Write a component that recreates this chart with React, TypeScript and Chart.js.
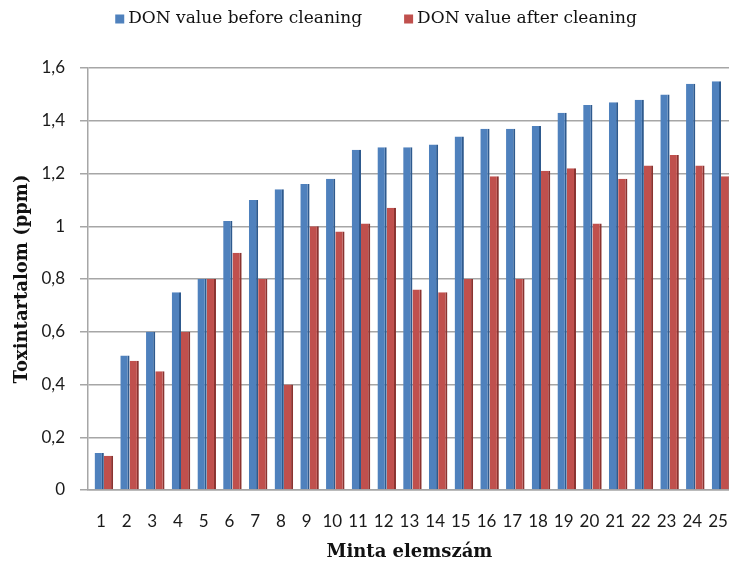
import { useEffect, useRef } from 'react';
import { Chart, registerables } from 'chart.js';

Chart.register(...registerables);

const categories = ['1','2','3','4','5','6','7','8','9','10','11','12','13','14','15','16','17','18','19','20','21','22','23','24','25'];
const seriesLabels = ['DON value before cleaning', 'DON value after cleaning'];
const beforeCleaning = [0.14,0.51,0.60,0.75,0.80,1.02,1.10,1.14,1.16,1.18,1.29,1.30,1.30,1.31,1.34,1.37,1.37,1.38,1.43,1.46,1.47,1.48,1.50,1.54,1.55];
const afterCleaning = [0.13,0.49,0.45,0.60,0.80,0.90,0.80,0.40,1.00,0.98,1.01,1.07,0.76,0.75,0.80,1.19,0.80,1.21,1.22,1.01,1.18,1.23,1.27,1.23,1.19];
const yMin = 0;
const yMax = 1.6;
const yStep = 0.2;
const xTitle = 'Minta elemszám';
const yTitle = 'Toxintartalom (ppm)';

const faceColors = ['#4F81BD', '#C0504D'];
const edgeColors = ['#2E5A8E', '#8A3330'];

const legendPlugin = {
  id: 'customLegend',
  afterDraw(chart: any) {
    const ctx = chart.ctx;
    ctx.save();
    ctx.font = '17px "DejaVu Serif"';
    const sq = 9, gap = 4, spacing = 42;
    const widths = chart.data.datasets.map((d: any) => ctx.measureText(d.label).width);
    let total = 0;
    widths.forEach((w: number, i: number) => { total += sq + gap + w + (i > 0 ? spacing : 0); });
    let x = 376 - total / 2;
    const y = 19;
    chart.data.datasets.forEach((d: any, i: number) => {
      ctx.fillStyle = faceColors[i];
      ctx.fillRect(x, y - sq / 2, sq, sq);
      x += sq + gap;
      ctx.fillStyle = '#111';
      ctx.textBaseline = 'middle';
      ctx.textAlign = 'left';
      ctx.fillText(d.label, x, y);
      x += widths[i] + spacing;
    });
    ctx.restore();
  },
};

// Shift the bars a few pixels right, like the depth offset of the original 3-D bars
const depthShiftPlugin = {
  id: 'depthShift',
  beforeDatasetsDraw(chart: any) {
    chart.ctx.save();
    chart.ctx.translate(3, 0);
  },
  afterDatasetsDraw(chart: any) {
    chart.ctx.restore();
  },
};

export default function App() {
  const ref = useRef<HTMLCanvasElement>(null);
  useEffect(() => {
    if (!ref.current) return;
    const chart = new Chart(ref.current, {
      type: 'bar',
      data: {
        labels: categories,
        datasets: [
          {
            label: seriesLabels[0],
            data: beforeCleaning,
            backgroundColor: faceColors[0],
            borderColor: edgeColors[0],
            borderWidth: { top: 0, left: 0, bottom: 0, right: 2 },
            borderSkipped: false,
          },
          {
            label: seriesLabels[1],
            data: afterCleaning,
            backgroundColor: faceColors[1],
            borderColor: edgeColors[1],
            borderWidth: { top: 0, left: 0, bottom: 0, right: 2 },
            borderSkipped: false,
          },
        ],
      },
      options: {
        responsive: false,
        animation: false,
        devicePixelRatio: 1,
        layout: { padding: { top: 68, right: 6, left: 0, bottom: 0 } },
        datasets: { bar: { categoryPercentage: 0.72, barPercentage: 1.0 } },
        plugins: {
          legend: { display: false },
          tooltip: { enabled: false },
        },
        scales: {
          x: {
            grid: { display: false },
            border: { display: true, color: '#a6a6a6', width: 1.5 },
            ticks: {
              color: '#1a1a1a',
              font: { family: 'Lato', size: 17 },
              padding: 13,
              maxRotation: 0,
              autoSkip: false,
            },
            title: {
              display: true,
              text: xTitle,
              color: '#111',
              font: { family: '"DejaVu Serif"', size: 18, weight: 'bold' },
              padding: { top: 0, bottom: 2 },
            },
            afterFit: (s: any) => { s.height = 75; },
          },
          y: {
            min: yMin,
            max: yMax,
            ticks: {
              stepSize: yStep,
              color: '#1a1a1a',
              font: { family: 'Lato', size: 17 },
              padding: 15,
              callback: (v: any) => Number(Number(v).toFixed(1)).toString().replace('.', ','),
            },
            grid: { color: '#a6a6a6', lineWidth: 1.5, tickLength: 8, drawTicks: true },
            border: { display: true, color: '#a6a6a6', width: 1.5 },
            title: {
              display: true,
              text: yTitle,
              color: '#111',
              font: { family: '"DejaVu Serif"', size: 18, weight: 'bold' },
              padding: { top: 12, bottom: 0 },
            },
            afterFit: (s: any) => { s.width = 88; },
          },
        },
      },
      plugins: [legendPlugin, depthShiftPlugin],
    });
    return () => chart.destroy();
  }, []);
  return (
    <div style={{ position: 'fixed', left: 0, top: 0, width: 729, height: 565, overflow: 'hidden', background: '#fff' }}>
      <canvas ref={ref} width={741} height={565} style={{ display: 'block' }} />
    </div>
  );
}
